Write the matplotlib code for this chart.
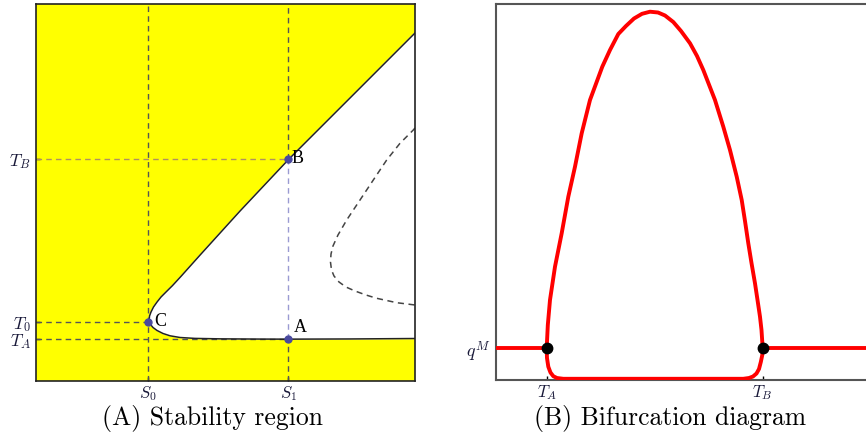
import numpy as np
import matplotlib
matplotlib.use("Agg")
import matplotlib.pyplot as plt

plt.rcParams['mathtext.fontset'] = 'cm'

# ---- panel A: stability region (schematic units 0..10) ----
S0, S1 = 2.96, 6.65
T0, TA_a, TB_a = 1.565, 1.11, 5.89

# upper branch of the boundary, from C up to the right edge
up_x = [2.982, 2.995, 3.034, 3.100, 3.193, 3.298, 3.430, 3.600, 3.820, 4.327, 5.383, 6.675, 8.285, 10.0]
up_y = [1.565, 1.724, 1.830, 1.963, 2.095, 2.228, 2.361, 2.530, 2.770, 3.339, 4.509, 5.889, 7.507, 9.231]
# lower branch, from C to the right edge
lo_x = [2.982, 3.021, 3.087, 3.193, 3.351, 3.536, 3.799, 4.195, 4.855, 5.910, 6.675, 8.285, 10.0]
lo_y = [1.565, 1.499, 1.419, 1.340, 1.260, 1.199, 1.154, 1.130, 1.118, 1.112, 1.110, 1.115, 1.127]
# dashed curve inside the white region
dc_x = [10.0, 9.955, 9.604, 9.253, 8.900, 8.549, 8.198, 7.968, 7.836, 7.784, 7.770, 7.797, 7.863,
        7.995, 8.179, 8.417, 8.707, 8.989, 9.517, 10.0]
dc_y = [6.711, 6.658, 6.305, 5.862, 5.332, 4.801, 4.271, 3.873, 3.581, 3.369, 3.156, 2.944, 2.785,
        2.626, 2.493, 2.387, 2.281, 2.194, 2.077, 2.016]

# ---- panel B: bifurcation diagram ----
TA_b, TB_b, qM = 1.348, 7.093, 0.843
top_x = [1.348, 1.378, 1.436, 1.569, 1.747, 1.923, 2.101, 2.279, 2.500, 2.827, 3.032, 3.253, 3.457,
         3.670, 3.883, 4.096, 4.309, 4.495, 4.715, 4.920, 5.160, 5.346, 5.513, 5.824, 6.045, 6.223,
         6.402, 6.535, 6.622, 6.710, 6.795, 6.888, 6.955, 7.021, 7.061, 7.093]
top_y = [0.843, 1.463, 2.128, 3.013, 3.902, 4.875, 5.673, 6.561, 7.447, 8.332, 8.777, 9.202, 9.415,
         9.614, 9.739, 9.795, 9.774, 9.694, 9.521, 9.282, 8.955, 8.617, 8.245, 7.447, 6.737, 6.117,
         5.407, 4.787, 4.229, 3.636, 3.112, 2.572, 2.128, 1.684, 1.330, 0.843]
bot_x = [1.348, 1.356, 1.391, 1.449, 1.524, 1.622, 1.790, 6.577, 6.729, 6.835, 6.928, 6.995, 7.043, 7.082, 7.093]
bot_y = [0.843, 0.585, 0.354, 0.199, 0.101, 0.053, 0.032, 0.032, 0.053, 0.093, 0.173, 0.293, 0.479, 0.665, 0.843]

fig = plt.figure(figsize=(8.66, 4.37), dpi=100)

# ---------- left ----------
ax = fig.add_axes([36/866, 56/437, 379/866, 377/437])
ax.set_facecolor('#ffff00')
ax.set_xlim(0, 10)
ax.set_ylim(0, 10)
poly_x = up_x + lo_x[::-1]
poly_y = up_y + lo_y[::-1]
ax.fill(poly_x, poly_y, color='white', zorder=1)
ax.plot(up_x, up_y, color='#222222', lw=1.1, zorder=3)
ax.plot(lo_x, lo_y, color='#222222', lw=1.1, zorder=3)
ax.plot(dc_x, dc_y, color='#444444', lw=1.1, ls=(0, (4, 3)), zorder=3)

dash = (0, (4, 3))
ax.axvline(S0, color='#555555', lw=1, ls=dash, zorder=2)
ax.plot([S1, S1], [TB_a, 10], color='#555555', lw=1, ls=dash, zorder=2)
ax.plot([S1, S1], [0, TA_a], color='#555555', lw=1, ls=dash, zorder=2)
ax.plot([S1, S1], [TA_a, TB_a], color='#9a9ad2', lw=1, ls=dash, zorder=2)
ax.plot([0, S1], [TB_a, TB_a], color='#b09060', lw=1, ls=dash, zorder=2)
ax.plot([0, S0], [T0, T0], color='#555555', lw=1, ls=dash, zorder=2)
ax.plot([0, S1], [TA_a, TA_a], color='#555555', lw=1, ls=dash, zorder=2)

ax.plot([S0, S1, S1], [T0, TB_a, TA_a], 'o', color='#4a4a9e', ms=5, zorder=4)
ax.text(S0 + 0.16, T0, 'C', fontsize=13, family='Liberation Serif', va='center', ha='left', zorder=5)
ax.text(S1 + 0.08, TB_a, 'B', fontsize=13, family='Liberation Serif', va='center', ha='left', zorder=5)
ax.text(S1 + 0.15, TA_a + 0.32, 'A', fontsize=13, family='Liberation Serif', va='center', ha='left', zorder=5)

ax.set_xticks([S0, S1])
ax.set_xticklabels(['$S_0$', '$S_1$'], fontsize=12, color='#1a1a3a')
ax.set_yticks([TA_a, T0, TB_a])
ax.set_yticklabels(['$T_A$', '$T_0$', '$T_B$'], fontsize=12.5, color='#1a1a3a')
ax.tick_params(direction='in', length=3, width=1, pad=4)
ax.tick_params(axis='x', pad=2)
for s in ax.spines.values():
    s.set_color('#222222')
    s.set_linewidth(1.2)
    s.set_zorder(6)

# ---------- right ----------
bx = fig.add_axes([496/866, 57/437, 376/866, 376/437])
bx.set_xlim(0, 10)
bx.set_ylim(0, 10)
bx.plot(top_x, top_y, color='red', lw=2.8, solid_capstyle='round', solid_joinstyle='round', zorder=3)
bx.plot(bot_x, bot_y, color='red', lw=2.8, solid_capstyle='round', solid_joinstyle='round', zorder=3)
bx.plot([0, TA_b], [qM, qM], color='red', lw=2.8, zorder=3)
bx.plot([TB_b, 10], [qM, qM], color='red', lw=2.8, zorder=3)
bx.plot([TA_b, TB_b], [qM, qM], 'o', color='black', ms=7.5, zorder=4)

bx.set_xticks([TA_b, TB_b])
bx.set_xticklabels(['$T_A$', '$T_B$'], fontsize=12, color='#1a1a3a')
bx.set_yticks([qM])
bx.set_yticklabels(['$q^M$'], fontsize=13, color='#1a1a3a')
bx.tick_params(direction='in', length=3, width=1, pad=4)
bx.tick_params(axis='x', pad=2)
for s in bx.spines.values():
    s.set_color('#555555')
    s.set_linewidth(1.5)

fig.text(212/866, 1 - 418/437, '(A) Stability region', family='cmr10', fontsize=18.5,
         ha='center', va='center')
fig.text(670/866, 1 - 418/437, '(B) Bifurcation diagram', family='cmr10', fontsize=18.5,
         ha='center', va='center')

fig.savefig('out.png', dpi=100)
